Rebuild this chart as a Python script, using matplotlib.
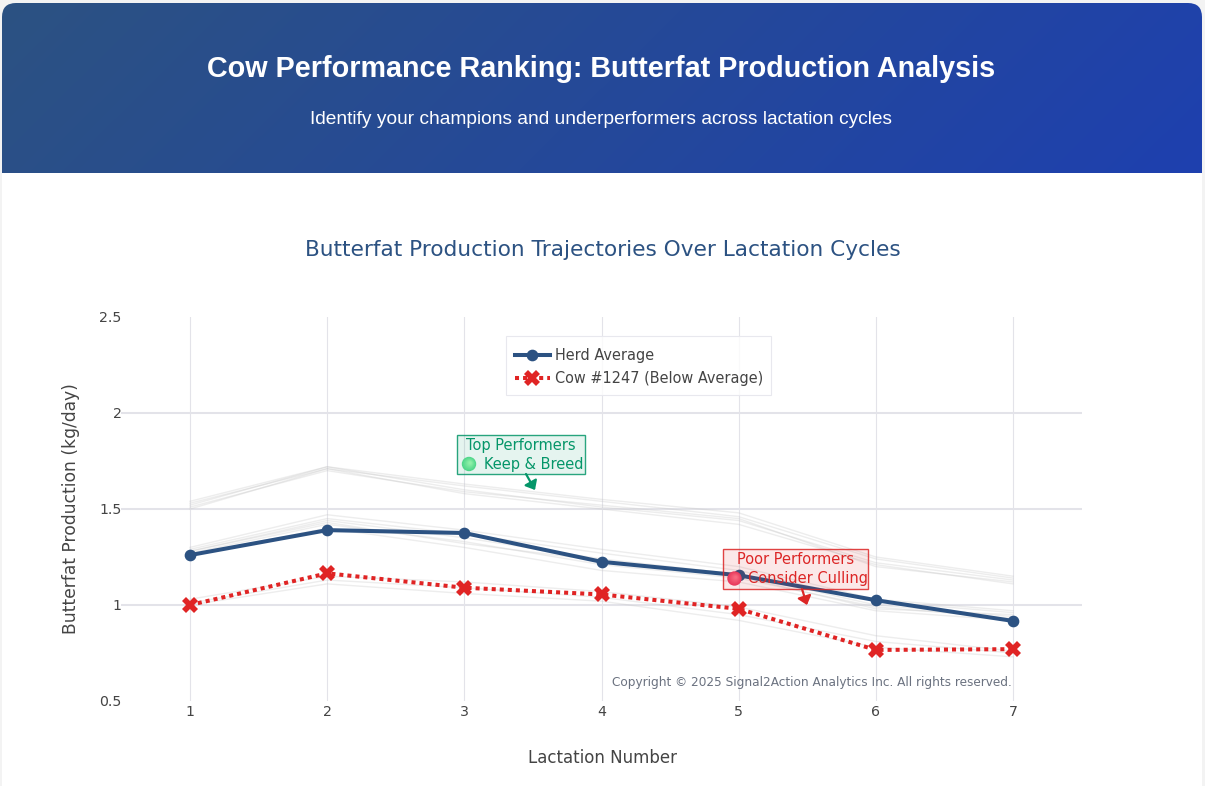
import numpy as np
from matplotlib import pyplot as plt
from matplotlib.colors import LinearSegmentedColormap
from matplotlib.patches import Circle, FancyBboxPatch, Rectangle

W, H = 1205, 786

lactations = [1, 2, 3, 4, 5, 6, 7]
herd_average = [1.26, 1.39, 1.375, 1.225, 1.155, 1.025, 0.917]
cow_1247 = [1.0, 1.165, 1.09, 1.055, 0.98, 0.766, 0.77]

top_cows = [
    [1.50, 1.71, 1.58, 1.50, 1.42, 1.21, 1.11],
    [1.52, 1.72, 1.60, 1.51, 1.44, 1.22, 1.13],
    [1.53, 1.71, 1.62, 1.54, 1.46, 1.24, 1.14],
    [1.54, 1.72, 1.63, 1.55, 1.48, 1.25, 1.15],
    [1.51, 1.70, 1.59, 1.52, 1.45, 1.20, 1.12],
]
mid_cows = [
    [1.26, 1.40, 1.30, 1.18, 1.12, 0.97, 0.92],
    [1.27, 1.42, 1.33, 1.21, 1.14, 0.99, 0.93],
    [1.28, 1.44, 1.35, 1.24, 1.16, 1.00, 0.94],
    [1.29, 1.45, 1.37, 1.27, 1.18, 1.02, 0.96],
    [1.30, 1.47, 1.39, 1.29, 1.20, 1.03, 0.97],
    [1.28, 1.43, 1.32, 1.23, 1.15, 0.98, 0.95],
]
low_cows = [
    [1.00, 1.11, 1.06, 1.02, 0.92, 0.78, 0.73],
    [1.01, 1.13, 1.09, 1.04, 0.95, 0.81, 0.75],
    [1.03, 1.15, 1.12, 1.07, 0.99, 0.84, 0.76],
]

y_ticks = [0.5, 1, 1.5, 2, 2.5]
y_tick_labels = ["0.5", "1", "1.5", "2", "2.5"]

GRID = "#e3e3e9"
BLUE = "#2c5282"
RED = "#dc2626"
GREEN = "#059669"
plt.rcParams["font.family"] = ["DejaVu Sans"]

fig = plt.figure(figsize=(W / 100, H / 100), dpi=100, facecolor="#f3f3f3")

# page background, card and header
bg = fig.add_axes([0, 0, 1, 1], zorder=0)
bg.set_xlim(0, W)
bg.set_ylim(H, 0)
bg.axis("off")
card = FancyBboxPatch((2, 3), 1200, 900, boxstyle="round,pad=0,rounding_size=14", fc="white", ec="none")
bg.add_patch(card)
xx, yy = np.meshgrid(np.linspace(0, 1, 1200), np.linspace(0, 1, 170))
grad = (xx * 1200 + yy * 170) / 1370
cmap = LinearSegmentedColormap.from_list("head", ["#2c5282", "#1e40af"], N=1024)
im = bg.imshow(grad, cmap=cmap, extent=(2, 1202, 173, 3), aspect="auto", zorder=2)
clip = FancyBboxPatch((2, 3), 1200, 300, boxstyle="round,pad=0,rounding_size=14", fc="none", ec="none", transform=bg.transData)
bg.add_patch(clip)
im.set_clip_path(clip)
bg.set_xlim(0, W)
bg.set_ylim(H, 0)
bg.text(601.5, 69, "Cow Performance Ranking: Butterfat Production Analysis", color="white",
        family="Liberation Sans", weight="bold", fontsize=20.7, ha="center", va="center", zorder=3)
bg.text(601.5, 120, "Identify your champions and underperformers across lactation cycles", color="white",
        family="Liberation Sans", fontsize=13.82, ha="center", va="center", zorder=3)
bg.text(602.5, 250, "Butterfat Production Trajectories Over Lactation Cycles", color=BLUE,
        fontsize=15.6, ha="center", va="center")
bg.text(602, 758, "Lactation Number", color="#444444", fontsize=12, ha="center", va="center")
bg.text(71, 509, "Butterfat Production (kg/day)", color="#444444", fontsize=12.3, rotation=90, ha="center", va="center")

# plot area: x 0.5-7.5 on px 121.4-1081.6, y 0.5-2.5 on px 701-317
ax = fig.add_axes([121.4 / W, 1 - 701 / H, 960.2 / W, 384 / H], zorder=1)
ax.patch.set_alpha(0)
ax.set_xlim(0.5, 7.5)
ax.set_ylim(0.5, 2.5)
for s in ax.spines.values():
    s.set_visible(False)
ax.set_xticks(lactations)
ax.set_yticks(y_ticks)
ax.set_yticklabels(y_tick_labels)
ax.tick_params(length=0, labelsize=10.2, labelcolor="#444444")
ax.tick_params(axis="x", pad=3)
ax.tick_params(axis="y", pad=0)
ax.grid(axis="x", color=GRID, lw=0.8)
for v in y_ticks[1:-1]:
    ax.axhline(v, color=GRID, lw=1.45, zorder=1)
ax.set_axisbelow(True)

for group in (top_cows, mid_cows, low_cows):
    for cow in group:
        ax.plot(lactations, cow, color="#c4c4c4", lw=1.0, alpha=0.3, zorder=2)

ax.plot(lactations, herd_average, color=BLUE, lw=2.9, marker="o", ms=7.4, mec=BLUE,
        label="Herd Average", zorder=3)
ax.plot(lactations, cow_1247, color="#e02424", lw=2.9, ls=(0, (1, 1)), marker="X", ms=12,
        mec="#e02424", mew=0, label="Cow #1247 (Below Average)", zorder=4)

# legend frame is separate so the entries can sit lower in it
ax.add_patch(Rectangle((506, 336), 265, 59, transform=bg.transData, fc="white", alpha=0.8,
                       ec="none", zorder=5, clip_on=False))
ax.add_patch(Rectangle((506, 336), 265, 59, transform=bg.transData, fc="none", ec="#e8e8ee",
                       lw=0.8, zorder=5, clip_on=False))
leg = ax.legend(loc="upper left", bbox_to_anchor=(515 / W, 1 - 348.5 / H), bbox_transform=fig.transFigure,
                fontsize=10.45, frameon=False, labelcolor="#444444", handlelength=2.41,
                handletextpad=0.38, labelspacing=0.55, borderpad=0, borderaxespad=0)
leg.set_zorder(6)

# overlay in pixel coordinates for the callouts and footer
ov = fig.add_axes([0, 0, 1, 1], zorder=2)
ov.set_xlim(0, W)
ov.set_ylim(H, 0)
ov.axis("off")


def callout(x0, y0, x1, y1, color, head, tail, lines, sphere, rim, light):
    ov.add_patch(Rectangle((x0, y0), x1 - x0, y1 - y0, fc=color, alpha=0.1, ec="none"))
    ov.add_patch(Rectangle((x0, y0), x1 - x0, y1 - y0, fc="none", ec=color, lw=1.0, alpha=0.85))
    ov.annotate("", xy=head, xytext=tail, arrowprops=dict(arrowstyle="-|>,head_length=0.5,head_width=0.42",
                color=color, lw=1.6, shrinkA=0, shrinkB=0))
    ov.text(lines[0][0], y0 + 11, lines[0][1], color=color, fontsize=10.5, ha="center", va="center")
    ov.text(lines[1][0], y0 + 29.8, lines[1][1], color=color, fontsize=10.5, ha="center", va="center")
    # emoji ball, shaded from rim to highlight
    cx, cy = sphere
    shades = LinearSegmentedColormap.from_list("ball", [rim, light])
    for i, r in enumerate(np.linspace(7.2, 1.5, 8)):
        ov.add_patch(Circle((cx + (7.2 - r) * 0.2, cy - (7.2 - r) * 0.2), r, fc=shades(i / 7), ec="none"))


callout(457, 434.5, 585, 474, GREEN, (535, 490), (526, 474),
        [(521, "Top Performers"), (533.5, "Keep & Breed")], (469, 464), "#4fd68a", "#8ef0a8")
callout(723, 549, 868, 589, RED, (807, 605), (802, 589),
        [(795.5, "Poor Performers"), (808, "Consider Culling")], (734.5, 578.5), "#e8395c", "#f76a80")

ov.text(1011.5, 682.5, "Copyright © 2025 Signal2Action Analytics Inc. All rights reserved.",
        color="#6b7280", fontsize=8.7, ha="right", va="center")

plt.savefig("out.png", dpi=100, facecolor=fig.get_facecolor())
